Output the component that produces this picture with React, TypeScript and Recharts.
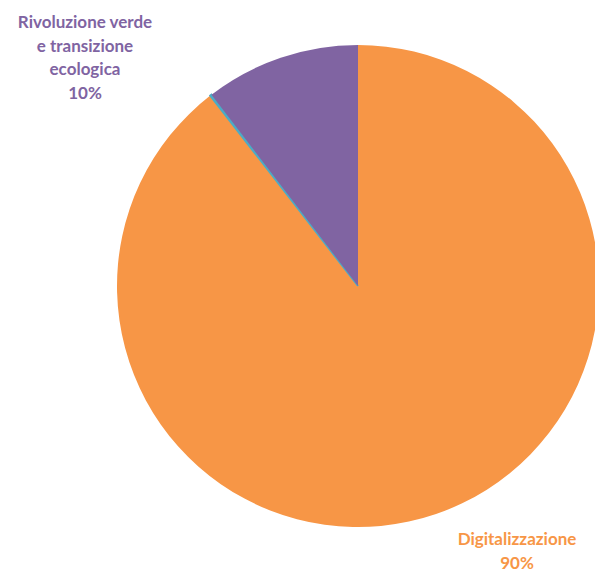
import React from "react";
import { PieChart, Pie, Cell } from "recharts";

const categories = ["Digitalizzazione", "Altro", "Rivoluzione verde e transizione ecologica"];
const shares = [89.5, 0.1, 10.4];
const colors = ["#F79646", "#4BACC6", "#8064A2"];

// label text lines per slice (the last line is the percentage)
const labelLines: Record<string, string[]> = {
  Digitalizzazione: ["Digitalizzazione"],
  "Rivoluzione verde e transizione ecologica": ["Rivoluzione verde", "e transizione", "ecologica"],
};
// where each label block sits, relative to the pie centre
const labelOffsets: Record<string, { dx: number; dy: number }> = {
  Digitalizzazione: { dx: 159, dy: 259 },
  "Rivoluzione verde e transizione ecologica": { dx: -273, dy: -258 },
};

const data = categories.map((name, i) => ({ name, value: shares[i] }));

const renderLabel = (props: any) => {
  const { cx, cy, name, percent, index } = props;
  const lines = labelLines[name];
  const off = labelOffsets[name];
  if (!lines || !off) return null;
  const all = [...lines, `${Math.round(percent * 100)}%`];
  return (
    <text
      x={cx + off.dx}
      y={cy + off.dy}
      textAnchor="middle"
      fill={colors[index]}
      fontFamily="Lato, sans-serif"
      fontWeight="bold"
      fontSize={17}
    >
      {all.map((t, i) => (
        <tspan key={i} x={cx + off.dx} dy={i === 0 ? 0 : 23.5}>
          {t}
        </tspan>
      ))}
    </text>
  );
};

export default function App() {
  return (
    <div style={{ position: "absolute", left: 0, top: 0, width: 595, height: 569, background: "#fff", overflow: "hidden" }}>
      <PieChart width={595} height={569} margin={{ top: 0, right: 0, bottom: 0, left: 0 }}>
        <Pie
          data={data}
          dataKey="value"
          nameKey="name"
          cx={358}
          cy={286}
          outerRadius={241}
          startAngle={90}
          endAngle={-270}
          label={renderLabel}
          labelLine={false}
          isAnimationActive={false}
        >
          {data.map((d, i) => (
            <Cell
              key={d.name}
              fill={colors[i]}
              stroke={i === 1 ? colors[i] : "none"}
              strokeWidth={i === 1 ? 2 : 0}
            />
          ))}
        </Pie>
      </PieChart>
    </div>
  );
}
